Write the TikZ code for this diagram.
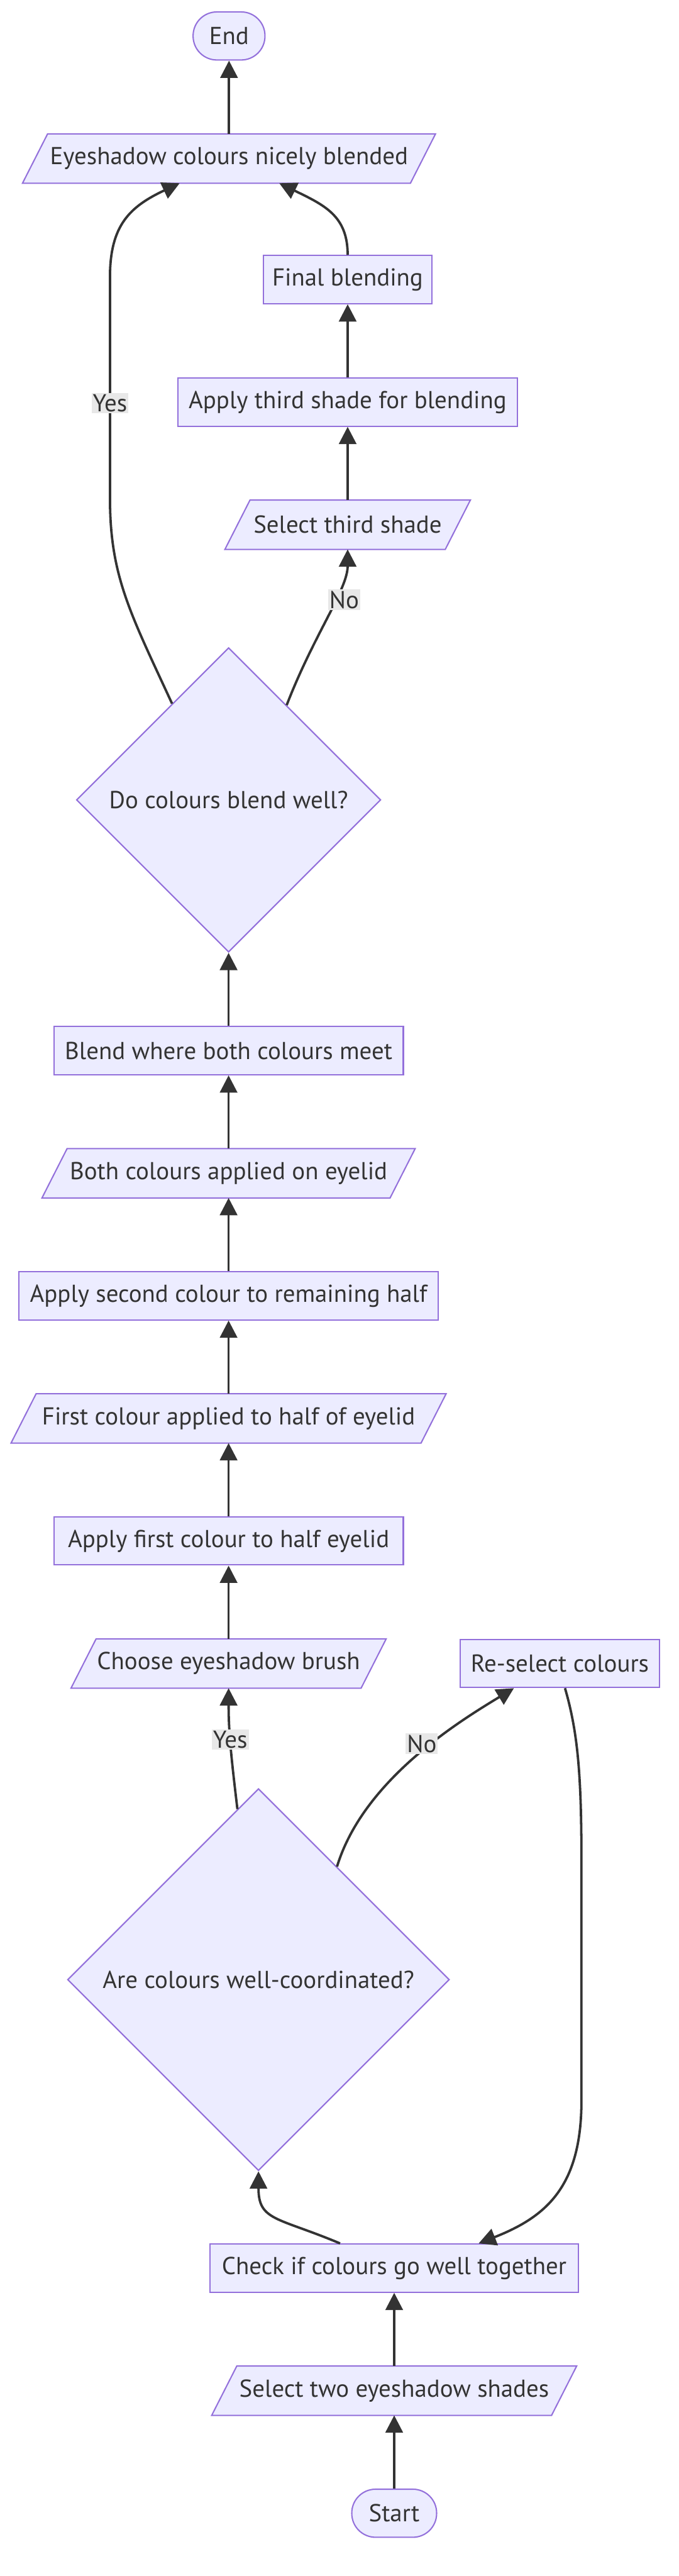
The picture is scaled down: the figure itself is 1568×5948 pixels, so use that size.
\documentclass[tikz,border=0pt]{standalone}
\usepackage{fontspec}
\setmainfont{PT Sans}
\usepackage{tikz}
\usetikzlibrary{positioning,calc,shapes.geometric,arrows.meta,backgrounds}

\definecolor{boxfill}{HTML}{ECECFF}
\definecolor{boxline}{HTML}{9370DB}
\definecolor{ink}{HTML}{333333}
\definecolor{tagfill}{HTML}{E8E8E8}

\tikzset{
  txt/.style={font=\fontsize{56.5}{66}\selectfont, text=ink},
  base/.style={txt, line width=3pt, minimum height=111pt, inner sep=0pt},
  terminal/.style={base, draw=boxline, fill=boxfill, rounded corners=55pt},
  process/.style={base, rectangle, draw=boxline, fill=boxfill},
  inout/.style={base, rectangle},
  iobox/.style={draw=boxline, fill=boxfill, line width=3pt},
  decision/.style={base, diamond, aspect=1, draw=boxline, fill=boxfill},
  link/.style={draw=ink, line width=5.5pt, -{Triangle[length=40pt,width=40pt]}},
  tag/.style={txt, fill=tagfill, inner sep=3pt}
}

\begin{document}
\begin{tikzpicture}[x=1pt, y=-1pt, node distance=169pt]
  % Bottom part: start, pick the shades and check them.
  \node[terminal, minimum width=196pt] (start) at (910.5,5803) {Start};
  \node[inout, minimum width=782pt] (pickshades) [above=of start] {Select two eyeshadow shades};
  \node[process, minimum width=850pt] (checkmatch) [above=of pickshades] {Check if colours go well together};
  \node[decision, minimum width=882pt, minimum height=882pt] (coordq) at (597,4571) {Are colours well-coordinated?};
  \node[process, minimum width=461pt] (reselect) at (1293,3841) {Re-select colours};
  % Main column going up.
  \node[inout, minimum width=667pt] (brush) at (528,3841) {Choose eyeshadow brush};
  \node[process, minimum width=807pt] (applyfirst) [above=of brush] {Apply first colour to half eyelid};
  \node[inout, minimum width=944pt] (firstdone) [above=of applyfirst] {First colour applied to half of eyelid};
  \node[process, minimum width=968pt] (applysecond) [above=of firstdone] {Apply second colour to remaining half};
  \node[inout, minimum width=801pt] (bothdone) [above=of applysecond] {Both colours applied on eyelid};
  \node[process, minimum width=807pt] (blendmeet) [above=of bothdone] {Blend where both colours meet};
  \node[decision, minimum width=703pt, minimum height=703pt] (blendq) [above=of blendmeet] {Do colours blend well?};
  % Third shade branch and the end.
  \node[inout, minimum width=506pt] (thirdshade) at (803,1211.5) {Select third shade};
  \node[process, minimum width=783pt] (applythird) [above=of thirdshade] {Apply third shade for blending};
  \node[process, minimum width=389pt] (finalblend) [above=of applythird] {Final blending};
  \node[inout, minimum width=893pt] (blended) at (529,366) {Eyeshadow colours nicely blended};
  \node[terminal, minimum width=166pt] (finish) [above=of blended] {End};

  % Bends of the two long connectors.
  \coordinate (yesrailbot) at (254,1150);
  \coordinate (yesrailtop) at (254,640);
  \coordinate (looprailtop) at (1343,4300);
  \coordinate (looprailbot) at (1343,4850);

  % Straight connectors.
  \foreach \a/\b in {start/pickshades, pickshades/checkmatch, brush/applyfirst,
      applyfirst/firstdone, firstdone/applysecond, applysecond/bothdone,
      bothdone/blendmeet, blendmeet/blendq, thirdshade/applythird,
      applythird/finalblend, blended/finish}
    \draw[link] (\a) -- (\b);

  % Curved connectors.
  \draw[link] ($(checkmatch.north)+(-125,0)$) .. controls +(-145,-61) and +(0,115) .. (coordq.south);
  \draw[link] ($(coordq.north)!0.11!(coordq.west)$) .. controls +(-14,-118) and +(0,103) ..
    node[tag, pos=0.56] (yescoord) {Yes} (brush.south);
  \draw[link] ($(coordq.north)!0.41!(coordq.east)$) .. controls +(61,-200) and +(-127,77) ..
    node[tag, pos=0.58, xshift=-22pt] (nocoord) {No} ($(reselect.south)+(-106,0)$);
  \draw[link] ($(reselect.south)+(12,0)$) .. controls +(30,103) and +(0,-200) .. (looprailtop)
    -- (looprailbot) .. controls +(0,200) and +(155,-61) .. ($(checkmatch.north)+(195,0)$);
  \draw[link] ($(blendq.north)!0.37!(blendq.west)$) .. controls +(-97,-210) and +(0,180) .. (yesrailbot)
    -- node[tag, pos=0.43] (yesblend) {Yes} (yesrailtop)
    .. controls +(0,-120) and +(-115,54) .. ($(blended.south)+(-114,0)$);
  \draw[link] ($(blendq.north)!0.38!(blendq.east)$) .. controls +(63,-163) and +(0,92) ..
    node[tag, pos=0.61, xshift=22pt] (noblend) {No} (thirdshade.south);
  \draw[link] (finalblend.north) .. controls +(0,-90) and +(105,51) .. ($(blended.south)+(116,0)$);

  % Page and the slanted input/output boxes behind their texts.
  \begin{scope}[on background layer]
    \path[use as bounding box, fill=white] (0,0) rectangle (1568,5948);
    \foreach \n in {pickshades, brush, firstdone, bothdone, thirdshade, blended}
      \filldraw[iobox] ($(\n.north west)+(29,0)$) -- ($(\n.north east)+(29,0)$)
        -- ($(\n.south east)+(-29,0)$) -- ($(\n.south west)+(-29,0)$) -- cycle;
  \end{scope}
\end{tikzpicture}
\end{document}
